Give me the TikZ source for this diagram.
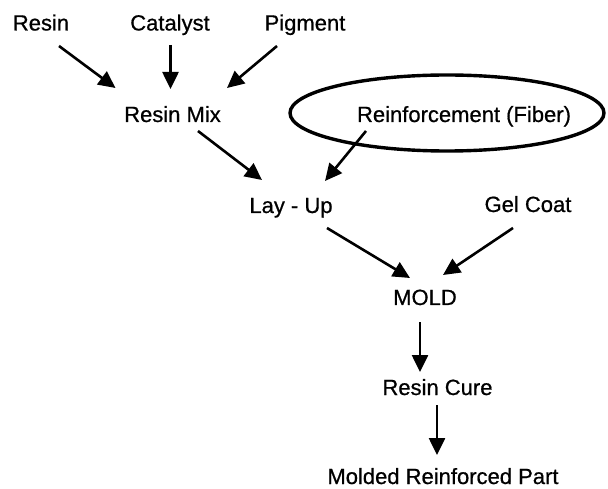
\documentclass[tikz,border=0pt]{standalone}
\usepackage{fontspec}
\setmainfont{Liberation Sans}[FakeBold=0.7]
\usetikzlibrary{arrows.meta,shapes.geometric}
\begin{document}
\begin{tikzpicture}[x=1pt,y=-1pt,
  lbl/.style={anchor=base,inner sep=0pt,font=\fontsize{22}{24}\selectfont},
  arr/.style={line width=2.6pt,-{Triangle[length=17pt,width=16pt]}},
  ring/.style={draw,ellipse,line width=3.4pt,minimum width=314pt,minimum height=76pt,inner sep=0pt}]
\useasboundingbox (0,0) rectangle (608,489);
\node[lbl] (resin) at (41,30.5) {Resin};
\node[lbl] (cat) at (170,30.5) {Catalyst};
\node[lbl] (pig) at (305,30.5) {Pigment};
\node[lbl] (rmix) at (172.5,122) {Resin Mix};
\node[ring] (fiberring) at (447,113) {};
\node[lbl] (fiber) at (464,122) {Reinforcement (Fiber)};
\node[lbl] (layup) at (291,213) {Lay - Up};
\node[lbl] (gel) at (528,212) {Gel Coat};
\node[lbl] (mold) at (425,305) {MOLD};
\node[lbl] (cure) at (437.5,395) {Resin Cure};
\node[lbl] (part) at (443,484) {Molded Reinforced Part};
\draw[arr] ([shift={(18,15.5)}]resin.base) -- ([shift={(-57,-34)}]rmix.base);
\draw[arr] ([shift={(0.5,14.5)}]cat.base) -- ([shift={(-2,-33)}]rmix.base);
\draw[arr] ([shift={(-28,15.5)}]pig.base) -- ([shift={(54.5,-34)}]rmix.base);
\draw[arr] ([shift={(25.5,9)}]rmix.base) -- ([shift={(-29,-33)}]layup.base);
\draw[arr] ([shift={(-98,9)}]fiber.base) -- ([shift={(34,-32)}]layup.base);
\draw[arr] ([shift={(36,15)}]layup.base) -- ([shift={(-15,-27)}]mold.base);
\draw[arr] ([shift={(-15,16)}]gel.base) -- ([shift={(18,-30)}]mold.base);
\draw[arr] ([shift={(-5,17)}]mold.base) -- ([shift={(-17.5,-23)}]cure.base);
\draw[arr] ([shift={(-0.5,10)}]cure.base) -- ([shift={(-6,-29)}]part.base);
\end{tikzpicture}
\end{document}
